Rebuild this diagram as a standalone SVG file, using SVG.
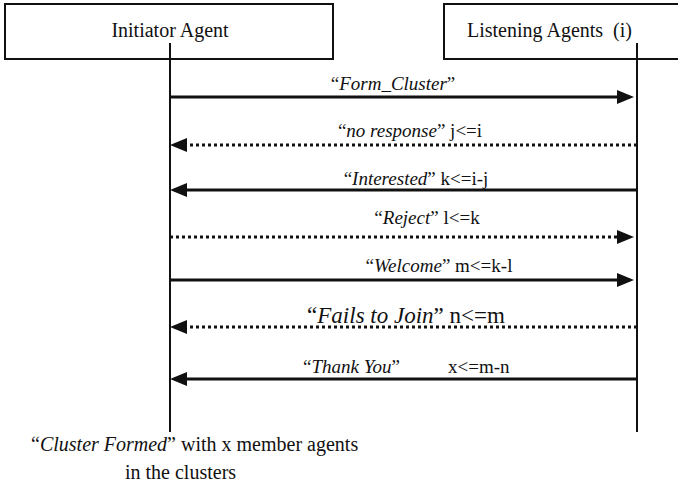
<svg xmlns="http://www.w3.org/2000/svg" width="678" height="487" viewBox="0 0 678 487">
  <style>
    text { fill: #111; white-space: pre; }
    .hdr { font-size: 20px; }
    .msg { font-size: 19px; text-anchor: middle; }
    .msg-l { font-size: 19px; text-anchor: start; }
    .big { font-size: 23px; }
    .note { font-size: 20px; }
    .it { font-style: italic; }
    .box { fill: #fff; stroke: #111; stroke-width: 2; }
    .life { stroke: #111; stroke-width: 2; fill: none; }
    .solid { stroke: #111; stroke-width: 3; fill: none; marker-end: url(#head); }
    .dotted { stroke: #111; stroke-width: 3; stroke-dasharray: 3 3; fill: none; marker-end: url(#head); }
  </style>
  <defs>
    <marker id="head" markerUnits="userSpaceOnUse" viewBox="0 0 17 14" refX="13" refY="7" markerWidth="17" markerHeight="14" orient="auto">
      <polygon points="0,0 17,7 0,14" fill="#111"/>
    </marker>
  </defs>

  <g font-family="Liberation Serif, serif">
    <g id="initiator">
      <rect class="box" x="5" y="4" width="328" height="55"/>
      <text class="hdr" x="170" y="37" text-anchor="middle">Initiator Agent</text>
      <line class="life" x1="170" y1="43" x2="170" y2="432"/>
    </g>

    <g id="listeners">
      <rect class="box" x="444" y="4" width="300" height="55"/>
      <text class="hdr" x="467" y="37">Listening Agents  (i)</text>
      <line class="life" x1="637" y1="43" x2="637" y2="432"/>
    </g>

    <g id="connectors">
      <line class="solid" x1="170" y1="97" x2="630" y2="97"/>
      <line class="dotted" x1="637" y1="145" x2="174" y2="145"/>
      <line class="solid" x1="637" y1="190" x2="174" y2="190"/>
      <line class="dotted" x1="170" y1="237" x2="630" y2="237"/>
      <line class="solid" x1="170" y1="280" x2="630" y2="280"/>
      <line class="dotted" x1="637" y1="327" x2="174" y2="327"/>
      <line class="solid" x1="637" y1="379" x2="174" y2="379"/>
    </g>

    <g id="labels">
      <text class="msg" x="393" y="90">“<tspan class="it">Form_Cluster</tspan>”</text>
      <text class="msg" x="410" y="137">“<tspan class="it">no response</tspan>” j&lt;=i</text>
      <text class="msg" x="416" y="185">“<tspan class="it">Interested</tspan>” k&lt;=i-j</text>
      <text class="msg" x="427" y="224">“<tspan class="it">Reject</tspan>” l&lt;=k</text>
      <text class="msg" x="439" y="272">“<tspan class="it">Welcome</tspan>” m&lt;=k-l</text>
      <text class="msg big" x="406" y="323">“<tspan class="it">Fails to Join</tspan>” n&lt;=m</text>
      <text class="msg-l" x="303" y="373">“<tspan class="it">Thank You</tspan>”</text>
      <text class="msg-l" x="448" y="373">x&lt;=m-n</text>
    </g>

    <g id="result">
      <text class="note" x="31" y="451">“<tspan class="it">Cluster Formed</tspan>” with x member agents</text>
      <text class="note" x="125" y="479">in the clusters</text>
    </g>
  </g>
</svg>
